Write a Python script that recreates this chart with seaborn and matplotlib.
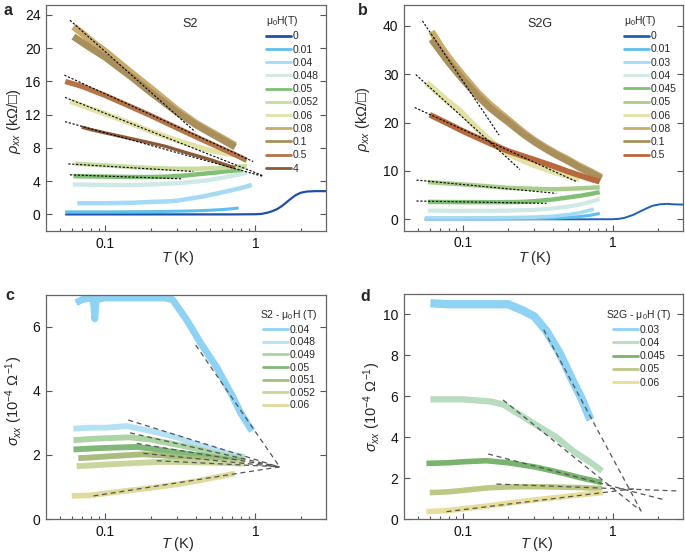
import numpy as np
import matplotlib
matplotlib.use("Agg")
import matplotlib.pyplot as plt
import seaborn as sns
from matplotlib.lines import Line2D
from matplotlib.ticker import LogLocator, NullFormatter

# ================= DATA =================
# ---- Panel a : S2, rho_xx (kOhm/sq) ----
a_fields = ["0", "0.01", "0.04", "0.048", "0.05", "0.052", "0.06", "0.08", "0.1", "0.5", "4"]
a_T_0 = [0.054, 0.1, 0.2, 0.4, 0.7, 1.0, 1.1, 1.2, 1.3, 1.4, 1.5, 1.6, 1.7, 1.85, 2.0, 2.2, 2.5, 2.96]
a_v_0 = [0, 0, 0, 0, 0, 0.02, 0.06, 0.2, 0.4, 0.65, 1.0, 1.4, 1.8, 2.3, 2.6, 2.75, 2.8, 2.8]
a_T_001 = [0.054, 0.1, 0.2, 0.3, 0.4, 0.5, 0.6, 0.7, 0.774]
a_v_001 = [0.3, 0.3, 0.33, 0.38, 0.43, 0.5, 0.58, 0.68, 0.78]
a_T_004 = [0.065, 0.1, 0.15, 0.2, 0.256, 0.3, 0.43, 0.55, 0.71, 0.85, 0.946]
a_v_004 = [1.35, 1.35, 1.4, 1.5, 1.56, 1.65, 2.1, 2.5, 2.95, 3.3, 3.55]
a_T_0048 = [0.0606, 0.1, 0.15, 0.2, 0.3, 0.4, 0.5, 0.6, 0.7, 0.8, 0.875]
a_v_0048 = [3.6, 3.55, 3.55, 3.6, 3.75, 3.95, 4.15, 4.4, 4.65, 4.85, 5.0]
a_T_005 = [0.0612, 0.1, 0.15, 0.2, 0.26, 0.35, 0.45, 0.55, 0.65, 0.75, 0.81]
a_v_005 = [4.6, 4.55, 4.5, 4.5, 4.55, 4.7, 4.9, 5.05, 5.2, 5.3, 5.36]
a_T_0052 = [0.0628, 0.1, 0.15, 0.214, 0.3, 0.4, 0.5, 0.6, 0.7, 0.875]
a_v_0052 = [6.1, 5.9, 5.7, 5.56, 5.5, 5.5, 5.55, 5.6, 5.7, 5.8]
a_T_006 = [0.0581, 0.07, 0.08, 0.1, 0.15, 0.2, 0.3, 0.4, 0.5, 0.6, 0.733]
a_v_006 = [13.6, 13.1, 12.7, 12.1, 10.9, 10.0, 8.9, 8.2, 7.7, 7.4, 7.15]
a_T_008 = [0.0612, 0.07, 0.08, 0.1, 0.15, 0.2, 0.3, 0.4, 0.5, 0.6, 0.733]
a_v_008 = [22.6, 21.8, 20.9, 19.6, 17.0, 15.2, 12.6, 11.0, 10.0, 9.2, 8.3]
a_T_01 = [0.0612, 0.07, 0.08, 0.1, 0.15, 0.2, 0.3, 0.4, 0.5, 0.6, 0.733]
a_v_01 = [21.4, 20.7, 20.0, 18.9, 16.5, 14.7, 12.3, 10.8, 9.8, 9.0, 8.1]
a_T_05 = [0.054, 0.07, 0.1, 0.15, 0.2, 0.3, 0.4, 0.5, 0.6, 0.75, 0.875]
a_v_05 = [16.0, 15.4, 14.3, 12.9, 11.9, 10.4, 9.35, 8.55, 7.9, 7.1, 6.5]
a_T_4 = [0.0695, 0.08, 0.1, 0.15, 0.184, 0.25, 0.35, 0.5, 0.6, 0.733]
a_v_4 = [10.5, 10.2, 9.8, 9.1, 8.75, 8.2, 7.4, 6.6, 6.1, 5.6]
# fit lines (T start, T end), (value start, value end)
a_fit_T = [(0.0581, 0.396), (0.0533, 0.967), (0.0538, 1.13), (0.0538, 1.13), (0.0566, 0.386), (0.0581, 0.323)]
a_fit_v = [(23.36, 9.96), (16.76, 6.36), (14.08, 4.64), (11.16, 4.56), (6.08, 5.16), (4.76, 4.28)]

# ---- Panel b : S2G, rho_xx ----
b_fields = ["0", "0.01", "0.03", "0.04", "0.045", "0.05", "0.06", "0.08", "0.1", "0.5"]
b_T_0 = [0.0553, 0.1, 0.3, 0.6, 1.0, 1.1, 1.2, 1.37, 1.5, 1.69, 1.85, 2.07, 2.3, 2.54, 2.96]
b_v_0 = [0, 0, 0, 0, 0.02, 0.1, 0.3, 0.9, 1.5, 2.27, 2.8, 3.1, 3.2, 3.1, 3.05]
b_T_001 = [0.0553, 0.1, 0.2, 0.3, 0.4, 0.5, 0.6, 0.7, 0.82]
b_v_001 = [0.1, 0.1, 0.12, 0.18, 0.25, 0.38, 0.55, 0.8, 1.2]
b_T_003 = [0.0553, 0.1, 0.2, 0.3, 0.4, 0.5, 0.6, 0.75]
b_v_003 = [0.3, 0.3, 0.35, 0.45, 0.65, 0.95, 1.35, 2.1]
b_T_004 = [0.058, 0.1, 0.2, 0.3, 0.4, 0.5, 0.6, 0.7, 0.82]
b_v_004 = [1.8, 1.75, 1.8, 1.95, 2.25, 2.6, 3.05, 3.55, 4.2]
b_T_0045 = [0.058, 0.1, 0.2, 0.25, 0.3, 0.4, 0.5, 0.6, 0.7, 0.82]
b_v_0045 = [3.6, 3.55, 3.55, 3.6, 3.75, 4.1, 4.5, 4.85, 5.2, 5.6]
b_T_005 = [0.058, 0.08, 0.1, 0.15, 0.2, 0.3, 0.4, 0.5, 0.6, 0.7, 0.82]
b_v_005 = [7.7, 7.4, 7.2, 6.8, 6.5, 6.3, 6.2, 6.3, 6.4, 6.5, 6.6]
b_T_006 = [0.0568, 0.07, 0.08, 0.095, 0.12, 0.14, 0.16, 0.2, 0.25, 0.3, 0.4, 0.5, 0.6]
b_v_006 = [28.2, 25.8, 24.2, 22.4, 19.2, 17.2, 15.6, 13.6, 12.2, 11.2, 9.9, 9.0, 8.3]
b_T_008 = [0.0614, 0.07, 0.08, 0.1, 0.125, 0.15, 0.176, 0.2, 0.25, 0.3, 0.35, 0.42, 0.5, 0.6, 0.7, 0.84]
b_v_008 = [38.8, 36.0, 33.4, 29.7, 26.2, 23.8, 22.0, 20.6, 18.1, 16.3, 15.0, 13.6, 12.4, 11.0, 10.0, 8.7]
b_T_01 = [0.0614, 0.07, 0.08, 0.1, 0.125, 0.15, 0.176, 0.2, 0.25, 0.3, 0.35, 0.42, 0.5, 0.6, 0.7, 0.84]
b_v_01 = [37.2, 34.8, 32.4, 28.8, 25.5, 23.1, 21.4, 20.1, 17.7, 16.0, 14.7, 13.3, 12.1, 10.7, 9.7, 8.4]
b_T_05 = [0.0598, 0.08, 0.1, 0.13, 0.159, 0.2, 0.25, 0.3, 0.4, 0.5, 0.6, 0.7, 0.82]
b_v_05 = [21.6, 19.7, 18.2, 16.6, 15.4, 14.1, 13.1, 12.3, 11.0, 9.9, 9.1, 8.4, 7.8]
b_fit_T = [(0.0534, 0.174), (0.0482, 0.24), (0.0474, 0.575), (0.0487, 0.42), (0.0487, 0.361)]
b_fit_v = [(41.0, 17.4), (29.9, 10.3), (23.1, 7.77), (8.1, 5.36), (3.78, 3.3)]

# ---- Panel c : S2, sigma_xx (1e-4 1/Ohm) ----
c_fields = ["0.04", "0.048", "0.049", "0.05", "0.051", "0.052", "0.06"]
c_T_004 = [0.0637, 0.07, 0.08, 0.083, 0.085, 0.087, 0.1, 0.15, 0.2, 0.25, 0.28, 0.3, 0.35, 0.43, 0.55, 0.71, 0.8, 0.95]
c_v_004 = [6.75, 6.85, 6.9, 6.85, 6.25, 6.85, 6.9, 6.9, 6.9, 6.9, 6.85, 6.65, 6.2, 5.5, 4.75, 3.8, 3.3, 2.75]
c_T_0048 = [0.0612, 0.08, 0.1, 0.139, 0.2, 0.3, 0.386, 0.5, 0.6, 0.7, 0.852]
c_v_0048 = [2.82, 2.85, 2.85, 2.9, 2.75, 2.55, 2.36, 2.2, 2.1, 2.0, 1.94]
c_T_0049 = [0.0612, 0.08, 0.1, 0.146, 0.2, 0.3, 0.4, 0.5, 0.6, 0.7, 0.85]
c_v_0049 = [2.46, 2.5, 2.52, 2.55, 2.48, 2.32, 2.2, 2.08, 2.0, 1.93, 1.87]
c_T_005 = [0.0612, 0.08, 0.1, 0.162, 0.2, 0.3, 0.4, 0.5, 0.6, 0.7, 0.85]
c_v_005 = [2.17, 2.2, 2.22, 2.25, 2.2, 2.08, 2.0, 1.94, 1.88, 1.84, 1.8]
c_T_0051 = [0.066, 0.08, 0.1, 0.15, 0.179, 0.25, 0.3, 0.4, 0.5, 0.6, 0.7, 0.85]
c_v_0051 = [1.9, 1.92, 1.95, 2.0, 2.02, 1.98, 1.93, 1.88, 1.84, 1.8, 1.77, 1.75]
c_T_0052 = [0.0644, 0.08, 0.1, 0.15, 0.22, 0.3, 0.4, 0.5, 0.6, 0.7, 0.85]
c_v_0052 = [1.65, 1.67, 1.7, 1.74, 1.78, 1.78, 1.77, 1.76, 1.75, 1.74, 1.73]
c_T_006 = [0.0597, 0.08, 0.1, 0.15, 0.2, 0.3, 0.4, 0.5, 0.6, 0.73]
c_v_006 = [0.72, 0.74, 0.8, 0.9, 0.97, 1.08, 1.18, 1.27, 1.34, 1.42]
c_fit_T = [(0.4, 1.46), (0.142, 1.43), (0.146, 1.43), (0.162, 1.43), (0.179, 1.43), (0.22, 1.43), (0.0832, 1.46)]
c_fit_v = [(5.43, 1.61), (3.09, 1.63), (2.69, 1.63), (2.36, 1.63), (2.05, 1.63), (1.82, 1.63), (0.72, 1.63)]

# ---- Panel d : S2G, sigma_xx ----
d_fields = ["0.03", "0.04", "0.045", "0.05", "0.06"]
d_T_003 = [0.0604, 0.08, 0.1, 0.15, 0.2, 0.25, 0.3, 0.36, 0.443, 0.545, 0.62, 0.711]
d_v_003 = [10.55, 10.5, 10.5, 10.5, 10.5, 10.2, 9.9, 9.2, 8.1, 6.7, 5.9, 4.85]
d_T_004 = [0.0604, 0.08, 0.1, 0.151, 0.185, 0.252, 0.3, 0.42, 0.55, 0.7, 0.85]
d_v_004 = [5.85, 5.85, 5.85, 5.75, 5.6, 5.0, 4.65, 4.0, 3.3, 2.8, 2.35]
d_T_0045 = [0.0568, 0.08, 0.1, 0.143, 0.2, 0.3, 0.4, 0.5, 0.6, 0.7, 0.85]
d_v_0045 = [2.72, 2.75, 2.8, 2.85, 2.75, 2.55, 2.35, 2.18, 2.03, 1.92, 1.78]
d_T_005 = [0.0598, 0.08, 0.1, 0.143, 0.2, 0.24, 0.3, 0.4, 0.5, 0.6, 0.7, 0.85]
d_v_005 = [1.29, 1.33, 1.4, 1.52, 1.57, 1.58, 1.58, 1.57, 1.55, 1.54, 1.52, 1.5]
d_T_006 = [0.0568, 0.08, 0.1, 0.15, 0.24, 0.3, 0.4, 0.5, 0.6, 0.7, 0.86]
d_v_006 = [0.36, 0.42, 0.5, 0.65, 0.85, 0.93, 1.03, 1.11, 1.18, 1.23, 1.29]
d_fit_T = [(0.346, 1.56), (0.185, 1.52), (0.147, 2.24), (0.167, 2.75), (0.0774, 1.4)]
d_fit_v = [(9.25, 0.36), (5.82, 0.44), (3.18, 0.93), (1.71, 1.37), (0.36, 1.48)]

# ================= STYLE =================
sns.set_theme(style="ticks")
plt.rcParams["font.family"] = ["Liberation Sans", "DejaVu Sans"]
plt.rcParams["mathtext.fontset"] = "custom"
plt.rcParams["mathtext.rm"] = "Liberation Sans"
plt.rcParams["mathtext.it"] = "Liberation Sans:italic"
plt.rcParams["mathtext.bf"] = "Liberation Sans:bold"
plt.rcParams["mathtext.fallback"] = "stixsans"

a_colors = ["#1f4fa6", "#5cbfee", "#a5daf4", "#cfe9e6", "#80bf74", "#c8dc9e",
            "#e2e2a6", "#c9ab6c", "#a98f5c", "#b47448", "#8c5a36"]
a_lw = [1.6, 2.2, 3.2, 3.2, 3.2, 3.2, 3.8, 5, 5, 3.8, 2.4]
b_colors = ["#1f5fb8", "#5cbfee", "#a5daf4", "#cfe9e6", "#80bf74", "#a9cb8b",
            "#e2e2a6", "#c9ab6c", "#a98f5c", "#b8693c"]
b_lw = [1.4, 2.2, 2.6, 3, 3.2, 3.2, 4.5, 5, 5, 4.2]
c_colors = ["#8ed2f4", "#b5e1f5", "#acd4a4", "#80b878", "#a9bd7c", "#c8d69c", "#e0da9c"]
c_lw = [5, 4.2, 4.2, 4.2, 4.2, 4.2, 4]
d_colors = ["#8ed2f4", "#b7dcc0", "#78b46e", "#bdc884", "#e6de9a"]
d_lw = [6, 4.5, 4, 4, 4]

a_data = [(a_T_0, a_v_0), (a_T_001, a_v_001), (a_T_004, a_v_004), (a_T_0048, a_v_0048),
          (a_T_005, a_v_005), (a_T_0052, a_v_0052), (a_T_006, a_v_006), (a_T_008, a_v_008),
          (a_T_01, a_v_01), (a_T_05, a_v_05), (a_T_4, a_v_4)]
b_data = [(b_T_0, b_v_0), (b_T_001, b_v_001), (b_T_003, b_v_003), (b_T_004, b_v_004),
          (b_T_0045, b_v_0045), (b_T_005, b_v_005), (b_T_006, b_v_006), (b_T_008, b_v_008),
          (b_T_01, b_v_01), (b_T_05, b_v_05)]
c_data = [(c_T_004, c_v_004), (c_T_0048, c_v_0048), (c_T_0049, c_v_0049), (c_T_005, c_v_005),
          (c_T_0051, c_v_0051), (c_T_0052, c_v_0052), (c_T_006, c_v_006)]
d_data = [(d_T_003, d_v_003), (d_T_004, d_v_004), (d_T_0045, d_v_0045), (d_T_005, d_v_005),
          (d_T_006, d_v_006)]

fig = plt.figure(figsize=(6.85, 5.56), dpi=100)
ax_a = fig.add_axes([0.0672, 0.5845, 0.4088, 0.4065])
ax_b = fig.add_axes([0.5898, 0.5851, 0.4073, 0.4060])
ax_c = fig.add_axes([0.0672, 0.0665, 0.4088, 0.4034])
ax_d = fig.add_axes([0.5898, 0.0665, 0.4073, 0.4047])


def setup(ax, ylim, yticks):
    ax.set_xscale("log")
    ax.set_xlim(0.0402, 2.96)
    ax.set_ylim(*ylim)
    ax.set_xticks([0.1, 1])
    ax.set_xticklabels(["0.1", "1"])
    ax.xaxis.set_minor_locator(LogLocator(base=10, subs=np.arange(2, 10)))
    ax.xaxis.set_minor_formatter(NullFormatter())
    ax.set_yticks(yticks)
    ax.set_yticklabels([str(t) for t in yticks])
    ax.tick_params(which="both", direction="in", top=False, right=True,
                   labelsize=10, color="#555555", width=0.8, pad=4, labelcolor="#111111")
    ax.tick_params(which="major", length=4)
    ax.tick_params(which="minor", length=2.5)
    ax.tick_params(axis="y", which="minor", left=False, right=False)
    for s in ax.spines.values():
        s.set_color("#666666")
        s.set_linewidth(0.9)


def draw(ax, data, colors, lws, fit_T, fit_v, fit_color, fit_ls, fit_lw):
    for (T, v), c, lw in zip(data, colors, lws):
        sns.lineplot(x=T, y=v, ax=ax, color=c, linewidth=lw, sort=False,
                     estimator=None, legend=False, solid_capstyle="butt")
    for (t0, t1), (v0, v1) in zip(fit_T, fit_v):
        sns.lineplot(x=[t0, t1], y=[v0, v1], ax=ax, color=fit_color, linewidth=fit_lw,
                     linestyle=fit_ls, sort=False, estimator=None, legend=False)


def legend(ax, labels, colors, title, x, y, spacing):
    handles = [Line2D([0], [0], color=c, lw=2) for c in colors]
    lg = ax.legend(handles, labels, title=title, loc="upper left", bbox_to_anchor=(x, y),
                   frameon=False, fontsize=7.5, title_fontsize=7.5, handlelength=2.4,
                   handletextpad=0.15, labelspacing=spacing, borderpad=0, borderaxespad=0)
    return lg


setup(ax_a, (-2, 25.2), [0, 4, 8, 12, 16, 20, 24])
setup(ax_b, (-2.35, 44.3), [0, 10, 20, 30, 40])
setup(ax_c, (0, 7), [0, 2, 4, 6])
setup(ax_d, (0, 11), [0, 2, 4, 6, 8, 10])

draw(ax_a, a_data, a_colors, a_lw, a_fit_T, a_fit_v, "black", (0, (2, 1.5)), 0.8)
draw(ax_b, b_data, b_colors, b_lw, b_fit_T, b_fit_v, "black", (0, (2, 1.5)), 0.8)
draw(ax_c, c_data, c_colors, c_lw, c_fit_T, c_fit_v, "#555555", (0, (4, 3)), 0.9)
draw(ax_d, d_data, d_colors, d_lw, d_fit_T, d_fit_v, "#555555", (0, (4, 3)), 0.9)

lg = legend(ax_a, a_fields, a_colors, "μ$_0$H(T)", 0.786, 0.96, 0.31)
lg._legend_box.align = "left"
lg = legend(ax_b, b_fields, b_colors, "μ$_0$H(T)", 0.789, 0.96, 0.31)
lg._legend_box.align = "left"
legend(ax_c, c_fields, c_colors, "S2 - μ$_0$H (T)", 0.765, 0.94, 0.25)
legend(ax_d, d_fields, d_colors, "S2G - μ$_0$H (T)", 0.725, 0.94, 0.31)

ax_a.text(0.514, 0.916, "S2", transform=ax_a.transAxes, ha="center", va="center", fontsize=9)
ax_b.text(0.487, 0.916, "S2G", transform=ax_b.transAxes, ha="center", va="center", fontsize=9)

rho_label = r"$\rho_{xx}$ (k$\Omega$/□)"
sig_label = r"$\sigma_{xx}$ (10$^{-4}$ $\Omega^{-1}$)"
for ax, yl, lx, ly, xx, xy in [(ax_a, rho_label, -0.082, 0.487, 0.47, -0.08),
                               (ax_b, rho_label, -0.115, 0.494, 0.47, -0.08),
                               (ax_c, sig_label, -0.075, 0.527, 0.47, -0.071),
                               (ax_d, sig_label, -0.075, 0.498, 0.477, -0.071)]:
    ax.set_ylabel(yl, fontsize=10.5)
    ax.yaxis.set_label_coords(lx, ly)
    ax.set_xlabel(r"$T$ (K)", fontsize=10.5)
    ax.xaxis.set_label_coords(xx, xy)

for lbl, x, y in [("a", 0.012, 0.982), ("b", 0.53, 0.982), ("c", 0.0146, 0.469), ("d", 0.533, 0.466)]:
    fig.text(x, y, lbl, fontsize=11.5, fontweight="bold", ha="center", va="center")

fig.savefig("out.png", dpi=100)
